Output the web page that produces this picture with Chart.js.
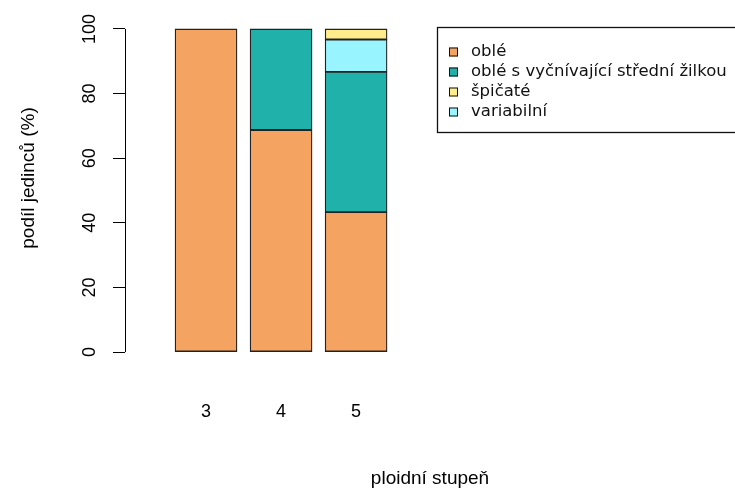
<!DOCTYPE html>
<html>
<head>
<meta charset="utf-8">
<script src="https://cdn.jsdelivr.net/npm/chart.js@4/dist/chart.umd.min.js"></script>
<style>
    html, body { margin: 0; padding: 0; background: #fff; }
    #wrap { width: 735px; height: 494px; }
</style>
</head>
<body>
<div id="wrap"><canvas id="chart"></canvas></div>
<script>
    'use strict';

    // ploidy levels (x) and shares of leaf shapes (%)
    const categories = [3, 4, 5];
    const obleValues = [100, 68.75, 43.3];
    const obleZilkaValues = [0, 31.25, 43.4];
    const variabilniValues = [0, 0, 10];
    const spicateValues = [0, 0, 3.3];
    const yTicks = [0, 20, 40, 60, 80, 100];

    const seriesNames = ['oblé', 'oblé s vyčnívající střední žilkou', 'variabilní', 'špičaté'];
    const seriesColors = ['#F4A460', '#20B2AA', '#98F5FF', '#FFEC8B'];
    const legendOrder = [0, 1, 3, 2];

    const seriesValues = [obleValues, obleZilkaValues, variabilniValues, spicateValues];

    const datasets = seriesValues.map((values, i) => ({
        label: seriesNames[i],
        data: values.map((v, j) => ({ x: categories[j], y: v })),
        backgroundColor: seriesColors[i],
        borderColor: '#222',
        borderWidth: 1.3,
        borderSkipped: false,
        barThickness: 62
    }));

    const tickFont = { family: 'Liberation Sans, Arial, sans-serif', size: 18 };
    const titleFont = { family: 'Liberation Sans, Arial, sans-serif', size: 19 };

    const rAxisPlugin = {
        id: 'rAxis',
        afterDraw(chart) {
            const ctx = chart.ctx;
            const y = chart.scales.y;
            const left = chart.chartArea.left;
            ctx.save();
            ctx.strokeStyle = '#000';
            ctx.lineWidth = 1;
            ctx.beginPath();
            ctx.moveTo(left + 0.5, y.getPixelForValue(yTicks[0]));
            ctx.lineTo(left + 0.5, y.getPixelForValue(yTicks[yTicks.length - 1]));
            ctx.stroke();

            // y title (R puts it a little above the centre here)
            ctx.save();
            ctx.translate(29, 178);
            ctx.rotate(-Math.PI / 2);
            ctx.font = '19px "Liberation Sans", Arial, sans-serif';
            ctx.textAlign = 'center';
            ctx.textBaseline = 'middle';
            ctx.fillStyle = '#000';
            ctx.fillText('podíl jedinců (%)', 0, 0);
            ctx.restore();

            // legend box, R style
            const bx = 437, by = 27, rowH = 20;
            ctx.strokeStyle = '#111';
            ctx.lineWidth = 1.3;
            ctx.strokeRect(bx + 0.5, by + 0.5, 330, 105);
            ctx.font = '16.5px "DejaVu Sans", sans-serif';
            ctx.textBaseline = 'middle';
            legendOrder.forEach((idx, row) => {
                const cy = by + 25 + row * rowH;
                ctx.fillStyle = seriesColors[idx];
                ctx.fillRect(bx + 12, cy - 4.5, 9, 9);
                ctx.lineWidth = 1;
                ctx.strokeRect(bx + 12.5, cy - 4, 8, 8);
                ctx.fillStyle = '#111';
                ctx.fillText(seriesNames[idx], bx + 34, cy);
            });
            ctx.restore();
        }
    };

    new Chart(document.getElementById('chart'), {
        type: 'bar',
        data: { datasets },
        options: {
            responsive: true,
            maintainAspectRatio: false,
            animation: false,
            layout: { padding: { top: 16, right: 0, left: 0, bottom: 0 } },
            plugins: {
                legend: { display: false },
                tooltip: { enabled: false }
            },
            scales: {
                x: {
                    type: 'linear',
                    stacked: true,
                    offset: false,
                    min: 1.92,
                    max: 10.05,
                    afterBuildTicks: (scale) => {
                        scale.ticks = categories.map((v) => ({ value: v }));
                    },
                    afterFit: (scale) => {
                        scale.height = 129;
                        scale.paddingLeft = 0;
                        scale.paddingRight = 0;
                    },
                    grid: { display: false, offset: false },
                    border: { display: false },
                    ticks: { color: '#000', font: tickFont, padding: 28, maxRotation: 0 },
                    title: {
                        display: true,
                        text: 'ploidní stupeň',
                        color: '#000',
                        font: titleFont,
                        padding: { top: 38 }
                    }
                },
                y: {
                    stacked: true,
                    min: -4,
                    max: 104,
                    afterBuildTicks: (scale) => {
                        scale.ticks = yTicks.map((v) => ({ value: v }));
                    },
                    afterFit: (scale) => {
                        scale.width = 125;
                        scale.paddingTop = 0;
                        scale.paddingBottom = 0;
                    },
                    grid: {
                        display: true,
                        drawOnChartArea: false,
                        drawTicks: true,
                        tickLength: 12,
                        color: '#000'
                    },
                    border: { display: false },
                    ticks: {
                        color: '#000',
                        font: tickFont,
                        minRotation: 90,
                        maxRotation: 90,
                        crossAlign: 'center',
                        padding: 8
                    }
                }
            }
        },
        plugins: [rAxisPlugin]
    });
</script>
</body>
</html>
